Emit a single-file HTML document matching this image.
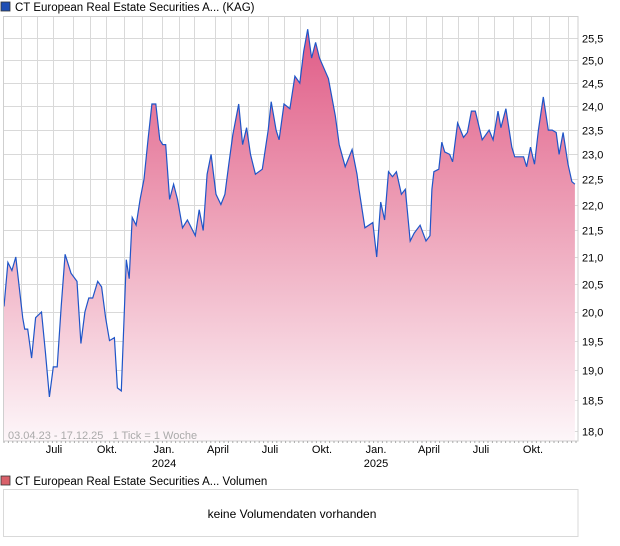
<!DOCTYPE html>
<html><head><meta charset="utf-8"><style>
html,body{margin:0;padding:0;background:#fff;}
svg{display:block;font-family:"Liberation Sans",sans-serif;}
</style></head><body>
<svg id="s" width="620" height="546" viewBox="0 0 620 546" xmlns="http://www.w3.org/2000/svg">
<defs>
<linearGradient id="g" gradientUnits="userSpaceOnUse" x1="0" y1="30" x2="0" y2="441">
<stop offset="0" stop-color="#e05c87"/>
<stop offset="0.45" stop-color="#eda0b7"/>
<stop offset="1" stop-color="#fdf6f9"/>
</linearGradient>
</defs>
<rect x="1" y="2" width="9" height="9" fill="#1f4fb5" stroke="#333" stroke-width="0.8"/>
<text x="15" y="11" font-size="11.5" fill="#000">CT European Real Estate Securities A... (KAG)</text>
<g id="grid" stroke="#d9d9d9" stroke-width="1"></g>
<path id="area" fill="url(#g)"/>
<path id="line" fill="none" stroke="#1f55c8" stroke-width="1.2"/>
<rect x="3.5" y="16.5" width="574.5" height="424.5" fill="none" stroke="#cfcfcf"/>
<g id="ylab" font-size="11" fill="#000"></g>
<g id="xt" stroke="#aaa"></g>
<text x="8" y="439" font-size="11" fill="#aaa" xml:space="preserve">03.04.23 - 17.12.25   1 Tick = 1 Woche</text>
<g font-size="11" fill="#000" text-anchor="middle">
<text x="54" y="453">Juli</text><text x="107" y="453">Okt.</text><text x="164" y="453">Jan.</text><text x="164" y="467">2024</text>
<text x="218" y="453">April</text><text x="270" y="453">Juli</text><text x="322" y="453">Okt.</text>
<text x="376" y="453">Jan.</text><text x="376" y="467">2025</text>
<text x="429" y="453">April</text><text x="481" y="453">Juli</text><text x="533" y="453">Okt.</text>
</g>
<rect x="1" y="476" width="9" height="9" fill="#d9606a" stroke="#333" stroke-width="0.8"/>
<text x="15" y="485" font-size="11.5" fill="#000">CT European Real Estate Securities A... Volumen</text>
<rect x="3.5" y="489.5" width="574.5" height="47" fill="#fff" stroke="#d9d9d9"/>
<text x="292" y="518" font-size="12" text-anchor="middle" fill="#000">keine Volumendaten vorhanden</text>
</svg>
<script>
var Y=function(v){return 38+1128*(Math.log(25.5)-Math.log(v));};
var X=function(x){return 4+(x-4)*0.986;};
var d=[[4,20.1],[8,20.9],[12,20.75],[16,21.0],[23,19.9],[25,19.7],[28,19.7],[32,19.2],[36,19.9],[42,20.0],[46,19.3],[50,18.55],[54,19.05],[58,19.05],[62,20.1],[66,21.05],[72,20.7],[78,20.55],[82,19.45],[86,20.0],[90,20.25],[94,20.25],[99,20.55],[103,20.45],[107,19.9],[111,19.5],[116,19.55],[119,18.7],[123,18.65],[126,20.0],[128,20.95],[131,20.6],[134,21.75],[138,21.6],[142,22.1],[146,22.5],[150,23.3],[154,24.05],[158,24.05],[162,23.3],[165,23.2],[168,23.2],[172,22.1],[176,22.4],[180,22.1],[185,21.55],[190,21.7],[198,21.4],[202,21.9],[206,21.5],[210,22.6],[214,23.0],[219,22.2],[224,22.0],[228,22.2],[232,22.8],[236,23.4],[242,24.05],[246,23.2],[250,23.55],[254,23.0],[259,22.6],[266,22.7],[272,23.5],[275,24.1],[280,23.5],[283,23.3],[288,24.05],[294,23.95],[299,24.65],[304,24.5],[308,25.2],[312,25.7],[316,25.05],[320,25.4],[324,25.05],[333,24.6],[340,23.8],[344,23.2],[350,22.75],[357,23.1],[362,22.6],[364,22.3],[370,21.55],[378,21.65],[382,21.0],[386,22.05],[390,21.7],[394,22.65],[398,22.55],[402,22.65],[407,22.2],[411,22.3],[416,21.3],[420,21.45],[426,21.6],[432,21.3],[436,21.4],[438,22.3],[440,22.65],[445,22.7],[448,23.25],[451,23.05],[456,23.0],[459,22.85],[464,23.65],[470,23.35],[474,23.45],[478,23.9],[482,23.9],[489,23.3],[496,23.5],[500,23.3],[505,23.9],[508,23.55],[513,23.95],[519,23.15],[522,22.95],[528,22.95],[531,22.95],[534,22.75],[538,23.15],[542,22.8],[546,23.5],[551,24.2],[556,23.5],[560,23.5],[564,23.45],[567,23.0],[571,23.45],[576,22.8],[580,22.45],[583,22.4]];
var p=d.map(function(q,i){return (i?"L":"M")+X(q[0]).toFixed(1)+","+Y(q[1]).toFixed(1);}).join("");
document.getElementById("line").setAttribute("d",p);
document.getElementById("area").setAttribute("d",p+"L"+X(583).toFixed(1)+",441L4,441Z");
var g=document.getElementById("grid"),h="";
[21,37,54,74,91,107,126,144,164,181,197,218,234,251,272,288,304,324,342,358,378,394,412,432,448,464,485,501,520,538,557,576].forEach(function(x){var xx=Math.round(X(x))+.5;if(xx<578)h+='<line x1="'+xx+'" y1="17" x2="'+xx+'" y2="441"/>';});
var yl="";
for(var v=18;v<=25.51;v+=0.5){var y=Math.round(Y(v))+.5;h+='<line x1="4" y1="'+y+'" x2="578" y2="'+y+'"/>';yl+='<text x="582" y="'+(y+4)+'">'+v.toFixed(1).replace(".",",")+'</text>';}
g.innerHTML=h;document.getElementById("ylab").innerHTML=yl;
var t="";for(var x=4;x<578;x+=4.4){t+='<line x1="'+x.toFixed(1)+'" y1="441" x2="'+x.toFixed(1)+'" y2="443"/>';}
document.getElementById("xt").innerHTML=t;
</script>
</body></html>
